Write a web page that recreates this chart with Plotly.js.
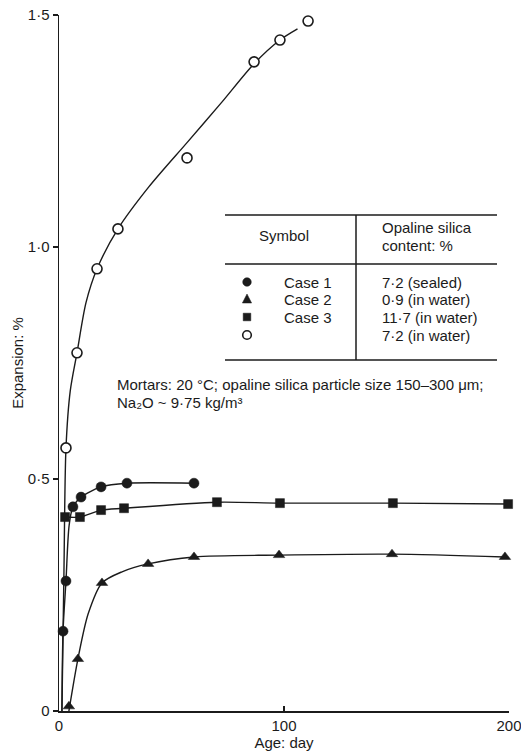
<!DOCTYPE html>
<html>
<head>
<meta charset="utf-8">
<script src="https://cdn.plot.ly/plotly-3.0.1.min.js"></script>
<style>html,body{margin:0;padding:0;background:#fff;}#chart{width:521px;height:752px;}</style>
</head>
<body>
<div id="chart"></div>
<script>
// ---- Data (x: age in days, y: expansion in %) ----
// 7·2 % opaline silica, in water (open circles)
const openX = [3.1, 8.0, 16.9, 26.2, 56.9, 86.7, 98.2, 110.7];
const openY = [0.567, 0.772, 0.953, 1.039, 1.192, 1.399, 1.446, 1.487];
const openCurveX = [1.3, 2.2, 3.1, 5.0, 8.0, 12.0, 16.9, 26.2, 40.0, 56.9, 72.0, 86.7, 98.2, 106.0];
const openCurveY = [0.0, 0.30, 0.567, 0.69, 0.772, 0.88, 0.953, 1.039, 1.13, 1.225, 1.31, 1.395, 1.446, 1.47];

// Case 1: 7·2 % (sealed) – filled circles
const case1X = [1.8, 3.1, 6.2, 9.8, 18.7, 30.2, 60.0];
const case1Y = [0.172, 0.280, 0.440, 0.461, 0.483, 0.491, 0.491];
const case1CurveX = [1.3, 1.8, 3.1, 4.5, 6.2, 9.8, 18.7, 30.2, 60.0];
const case1CurveY = [0.0, 0.172, 0.280, 0.40, 0.440, 0.461, 0.483, 0.491, 0.491];

// Case 2: 0·9 % (in water) – filled triangles
const case2X = [4.4, 8.4, 19.1, 39.6, 60.0, 97.8, 148.0, 198.2];
const case2Y = [0.01, 0.112, 0.276, 0.317, 0.332, 0.336, 0.338, 0.332];
const case2CurveX = [4.4, 8.4, 13.0, 19.1, 28.0, 39.6, 60.0, 97.8, 148.0, 198.2];
const case2CurveY = [0.0, 0.112, 0.21, 0.276, 0.30, 0.317, 0.332, 0.336, 0.338, 0.332];

// Case 3: 11·7 % (in water) – filled squares
const case3X = [2.7, 9.3, 18.7, 28.9, 70.2, 98.2, 148.4, 199.6];
const case3Y = [0.418, 0.418, 0.433, 0.437, 0.450, 0.448, 0.448, 0.446];

// Axis ticks
const xTickVals = [0, 100, 200];
const xTickText = ['0', '100', '200'];
const yTickVals = [0, 0.5, 1.0, 1.5];
const yTickText = ['0', '0·5', '1·0', '1·5'];

// Table (legend) content
const tableSymbols = ['filled-circle', 'filled-triangle', 'filled-square', 'open-circle'];
const tableCases = ['Case 1', 'Case 2', 'Case 3', ''];
const tableContents = ['7·2 (sealed)', '0·9 (in water)', '11·7 (in water)', '7·2 (in water)'];

// ---- Styling / layout ----
const INK = '#1b1b1b';
const FONT = 'Liberation Sans, Arial, Helvetica, sans-serif';
const W = 521, H = 752;
const M = {l: 59, r: 12, t: 15, b: 41};
const px = x => (x - M.l) / (W - M.l - M.r);
const py = y => (H - M.b - y) / (H - M.t - M.b);

function curve(x, y) {
  return {x: x, y: y, type: 'scatter', mode: 'lines', hoverinfo: 'skip',
          line: {color: INK, width: 1.4, shape: 'spline', smoothing: 0.8},
          showlegend: false, cliponaxis: false};
}
function pts(x, y, symbol, size, open) {
  return {x: x, y: y, type: 'scatter', mode: 'markers', showlegend: false, cliponaxis: false,
          marker: {symbol: symbol, size: size, color: open ? '#ffffff' : INK,
                   line: {color: INK, width: open ? 1.6 : 0.5}}};
}

const data = [
  curve(openCurveX, openCurveY),
  curve(case1CurveX, case1CurveY),
  curve(case2CurveX, case2CurveY),
  curve(case3X, case3Y),
  pts(case3X, case3Y, 'square', 9, false),
  pts(case2X, case2Y, 'triangle-up', 10, false),
  pts(case1X, case1Y, 'circle', 10, false),
  pts(openX, openY, 'circle', 10, true)
];

const hline = (x0, x1, y) => ({type: 'line', xref: 'paper', yref: 'paper', x0: px(x0), x1: px(x1), y0: py(y), y1: py(y), line: {color: INK, width: 1.5}});
const shapes = [
  hline(225, 497, 215),
  hline(225, 497, 264),
  hline(225, 497, 360),
  {type: 'line', xref: 'paper', yref: 'paper', x0: px(356), x1: px(356), y0: py(215), y1: py(360), line: {color: INK, width: 1.5}}
];

// legend symbols drawn as shapes
const rowY = [282, 299, 317, 335];
const symX = 247;
function symbolShape(kind, cx, cy) {
  const r = 4.3;
  if (kind === 'filled-circle' || kind === 'open-circle') {
    const open = kind === 'open-circle';
    return {type: 'circle', xref: 'paper', yref: 'paper',
            x0: px(cx - r), x1: px(cx + r), y0: py(cy + r), y1: py(cy - r),
            fillcolor: open ? '#ffffff' : INK, line: {color: INK, width: open ? 1.6 : 0.5}};
  }
  if (kind === 'filled-square') {
    const s = 3.8;
    return {type: 'rect', xref: 'paper', yref: 'paper',
            x0: px(cx - s), x1: px(cx + s), y0: py(cy + s), y1: py(cy - s),
            fillcolor: INK, line: {color: INK, width: 0.5}};
  }
  // triangle
  const p = `M ${px(cx)},${py(cy - 5)} L ${px(cx + 4.6)},${py(cy + 4)} L ${px(cx - 4.6)},${py(cy + 4)} Z`;
  return {type: 'path', xref: 'paper', yref: 'paper', path: p, fillcolor: INK, line: {color: INK, width: 0.5}};
}
for (let i = 0; i < tableSymbols.length; i++) shapes.push(symbolShape(tableSymbols[i], symX, rowY[i]));

function txt(text, x, y, anchor, size) {
  return {text: text, xref: 'paper', yref: 'paper', x: px(x), y: py(y), xanchor: anchor, yanchor: 'middle',
          showarrow: false, font: {family: FONT, size: size || 15, color: INK}};
}

const annotations = [
  txt('Symbol', 284, 236, 'center'),
  txt('Opaline silica', 380, 228, 'left'),
  txt('content: %', 380, 246, 'left')
];
for (let i = 0; i < tableSymbols.length; i++) {
  if (tableCases[i]) annotations.push(txt(tableCases[i], 282, rowY[i], 'left'));
  annotations.push(txt(tableContents[i], 380, rowY[i], 'left'));
}
annotations.push(txt('Mortars: 20 °C; opaline silica particle size 150–300 μm;', 115, 385, 'left'));
annotations.push(txt('Na₂O ~ 9·75 kg/m³', 115, 402, 'left'));

const layout = {
  width: W, height: H,
  margin: M,
  paper_bgcolor: '#ffffff', plot_bgcolor: '#ffffff',
  font: {family: FONT, size: 15, color: INK},
  showlegend: false,
  xaxis: {
    range: [0, 200], tickvals: xTickVals, ticktext: xTickText,
    ticks: 'inside', ticklen: 5, tickwidth: 1.3, tickcolor: INK,
    ticklabeloverflow: 'allow',
    showline: true, linecolor: INK, linewidth: 1.5,
    showgrid: false, zeroline: false,
    tickfont: {family: FONT, size: 15, color: INK},
    title: {text: 'Age: day', standoff: 4, font: {family: FONT, size: 15, color: INK}}
  },
  yaxis: {
    range: [0, 1.5], tickvals: yTickVals, ticktext: yTickText,
    ticks: 'outside', ticklen: 5, tickwidth: 1.3, tickcolor: INK,
    showline: true, linecolor: INK, linewidth: 1.5,
    showgrid: false, zeroline: false,
    tickfont: {family: FONT, size: 15, color: INK},
    title: {text: 'Expansion: %', standoff: 0, font: {family: FONT, size: 15, color: INK}}
  },
  shapes: shapes,
  annotations: annotations
};

Plotly.newPlot('chart', data, layout, {displayModeBar: false, staticPlot: true});
</script>
</body>
</html>
